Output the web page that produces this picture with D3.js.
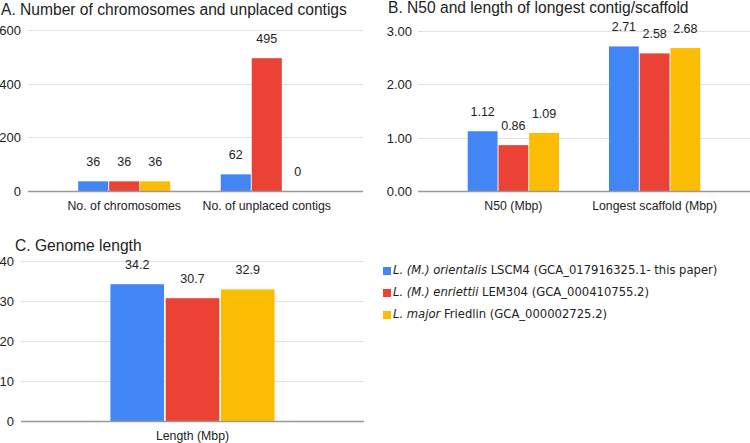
<!DOCTYPE html>
<html>
<head>
    <title>Genome assembly comparison</title>
    <script src="https://d3js.org/d3.v7.min.js"></script>
    <style>
        body { margin: 0; background: #fff; }
        text { font-family: "Liberation Sans", Arial, sans-serif; fill: #222; }
        .legend text { font-family: "DejaVu Sans", sans-serif; }
    </style>
</head>
<body>
    <div id="chart"></div>

    <script>
        // Series (one colour each)
        var seriesNames = ["orientalis", "enriettii", "major"];
        var seriesColors = ["#4285f4", "#ea4335", "#fbbc04"];

        // Panel A
        var catsA = ["No. of chromosomes", "No. of unplaced contigs"];
        var valuesA = [[36, 62], [36, 495], [36, 0]];
        var labelsA = [["36", "62"], ["36", "495"], ["36", "0"]];
        var ticksA = [0, 200, 400, 600];

        // Panel B
        var catsB = ["N50 (Mbp)", "Longest scaffold (Mbp)"];
        var valuesB = [[1.12, 2.71], [0.86, 2.58], [1.09, 2.68]];
        var labelsB = [["1.12", "2.71"], ["0.86", "2.58"], ["1.09", "2.68"]];
        var ticksB = [0, 1, 2, 3];

        // Panel C
        var catsC = ["Length (Mbp)"];
        var valuesC = [[34.2], [30.7], [32.9]];
        var labelsC = [["34.2"], ["30.7"], ["32.9"]];
        var ticksC = [0, 10, 20, 30, 40];

        var width = 750, height = 443;

        var svg = d3.select("#chart")
            .append("svg")
            .attr("width", width)
            .attr("height", height);

        function panel(opt) {
            var g = svg.append("g");

            g.append("text")
                .attr("x", opt.titleX)
                .attr("y", opt.titleY)
                .attr("font-size", 15.6)
                .text(opt.title);

            var y = d3.scaleLinear()
                .domain([0, opt.ticks[opt.ticks.length - 1]])
                .range([opt.bottom, opt.top]);

            var x0 = d3.scaleBand()
                .domain(opt.cats)
                .range([opt.left, opt.right])
                .paddingInner(0.354)
                .paddingOuter(0.352);

            var x1 = d3.scaleBand()
                .domain(d3.range(seriesNames.length))
                .range([0, x0.bandwidth()])
                .paddingInner(0.03);

            // grid lines
            g.selectAll(".grid")
                .data(opt.ticks.slice(1))
                .enter()
                .append("line")
                .attr("x1", opt.left)
                .attr("x2", opt.right)
                .attr("y1", function(d) { return Math.round(y(d)) + 0.5; })
                .attr("y2", function(d) { return Math.round(y(d)) + 0.5; })
                .attr("stroke", "#e2e2e2")
                .attr("stroke-width", 1);

            // tick labels
            g.selectAll(".tick")
                .data(opt.ticks)
                .enter()
                .append("text")
                .attr("x", opt.tickX)
                .attr("y", function(d) { return y(d) + 5; })
                .attr("text-anchor", "end")
                .attr("font-size", 13)
                .text(opt.fmt);

            // bars
            seriesNames.forEach(function(s, si) {
                g.selectAll(".bar" + si)
                    .data(opt.cats)
                    .enter()
                    .append("rect")
                    .attr("x", function(c) { return x0(c) + x1(si); })
                    .attr("width", x1.bandwidth())
                    .attr("y", function(c, ci) { return y(opt.values[si][ci]); })
                    .attr("height", function(c, ci) { return opt.bottom - y(opt.values[si][ci]); })
                    .attr("fill", seriesColors[si]);

                g.selectAll(".lab" + si)
                    .data(opt.cats)
                    .enter()
                    .append("text")
                    .attr("x", function(c) { return x0(c) + x1(si) + x1.bandwidth() / 2; })
                    .attr("y", function(c, ci) { return y(opt.values[si][ci]) - 15; })
                    .attr("text-anchor", "middle")
                    .attr("font-size", 12.5)
                    .text(function(c, ci) { return opt.labels[si][ci]; });
            });

            // baseline
            g.append("line")
                .attr("x1", opt.left)
                .attr("x2", opt.right)
                .attr("y1", opt.bottom + 0.5)
                .attr("y2", opt.bottom + 0.5)
                .attr("stroke", "#999")
                .attr("stroke-width", 1.3);

            // category labels
            g.selectAll(".cat")
                .data(opt.cats)
                .enter()
                .append("text")
                .attr("x", function(c) { return x0(c) + x0.bandwidth() / 2; })
                .attr("y", opt.bottom + 19)
                .attr("text-anchor", "middle")
                .attr("font-size", 12.3)
                .text(function(c) { return c; });
        }

        panel({
            title: "A. Number of chromosomes and unplaced contigs",
            titleX: 1, titleY: 15,
            cats: catsA, values: valuesA, labels: labelsA, ticks: ticksA,
            left: 28, right: 363, top: 30, bottom: 191, tickX: 21,
            fmt: function(d) { return d; }
        });

        panel({
            title: "B. N50 and length of longest contig/scaffold",
            titleX: 388, titleY: 13,
            cats: catsB, values: valuesB, labels: labelsB, ticks: ticksB,
            left: 418, right: 750, top: 31, bottom: 191, tickX: 412,
            fmt: d3.format(".2f")
        });

        panel({
            title: "C. Genome length",
            titleX: 15, titleY: 251,
            cats: catsC, values: valuesC, labels: labelsC, ticks: ticksC,
            left: 21, right: 364, top: 261, bottom: 421, tickX: 14,
            fmt: function(d) { return d; }
        });

        // legend
        var legendItems = [
            { it: "L. (M.) orientalis", rest: " LSCM4 (GCA_017916325.1- this paper)" },
            { it: "L. (M.) enriettii", rest: " LEM304 (GCA_000410755.2)" },
            { it: "L. major", rest: " Friedlin (GCA_000002725.2)" }
        ];

        var legend = svg.append("g").attr("class", "legend");
        legendItems.forEach(function(d, i) {
            var ly = 270 + i * 22;
            legend.append("rect")
                .attr("x", 383)
                .attr("y", ly - 3)
                .attr("width", 8)
                .attr("height", 8)
                .attr("fill", seriesColors[i]);
            var t = legend.append("text")
                .attr("x", 393)
                .attr("y", ly + 4)
                .attr("font-size", 11.6);
            t.append("tspan").attr("font-style", "italic").text(d.it);
            t.append("tspan").text(d.rest);
        });
    </script>
</body>
</html>
